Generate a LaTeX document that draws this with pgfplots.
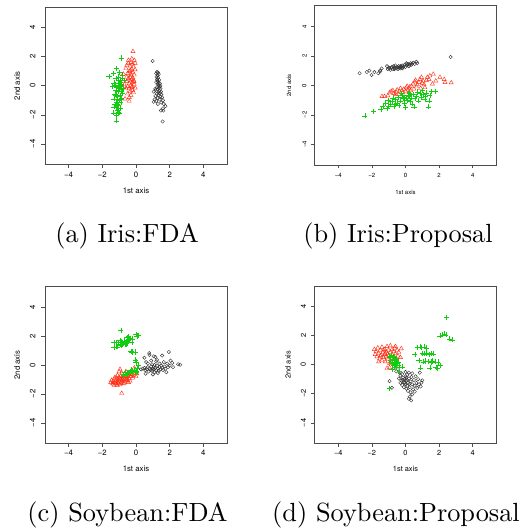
\documentclass[border=0pt]{standalone}
\usepackage{fontspec}
\usepackage{pgfplots}
\pgfplotsset{compat=1.18}
\newfontfamily\hv{TeX Gyre Heros}
\definecolor{rred}{HTML}{FF2A10}
\definecolor{rgreen}{HTML}{10CD10}
\definecolor{rblack}{HTML}{303030}
\pgfplotsset{
  rplot/.style={
    scale only axis,
    xmin=-5.4, xmax=5.4, ymin=-5.4, ymax=5.4,
    xtick={-4,-2,0,2,4}, ytick={-4,-2,0,2,4},
    xticklabels={−4,−2,0,2,4}, yticklabels={−4,−2,0,2,4},
    tick align=outside, tick pos=left,
    major tick length=3.5pt,
    axis line style={black!70, line width=0.65pt},
    tick style={black!70, line width=0.65pt},
    xticklabel style={anchor=north, inner sep=0pt},
    yticklabel style={rotate=90, anchor=south, inner sep=0pt},
    xlabel={1st axis}, ylabel={2nd axis},
    clip=false,
  },
  circ/.style={only marks, mark=o, mark size=1.7pt, rblack, mark options={line width=0.4pt}},
  tri/.style={only marks, mark=triangle, mark size=2.4pt, rred, mark options={line width=0.4pt}},
  crs/.style={only marks, mark=+, mark size=2.6pt, rgreen, mark options={line width=0.45pt}},
}
\tikzset{capnode/.style={anchor=base, font=\fontsize{10}{12}\selectfont, inner sep=0pt, scale=2.63}}
\begin{document}
\begin{tikzpicture}
\useasboundingbox (0,0) rectangle (527pt,531pt);
% ---------------- (a) Iris:FDA
\begin{axis}[rplot, at={(45pt,366.5pt)}, anchor=south west, width=182pt, height=157.5pt,
  ticklabel style={font=\hv\fontsize{7.8}{9}\selectfont},
  label style={font=\hv\fontsize{7.8}{9}\selectfont},
  xticklabel shift=3.4pt, yticklabel shift=5.8pt,
  xlabel style={at={(axis description cs:0.5,0)}, anchor=center, yshift=-26.4pt},
  ylabel style={at={([xshift=-28pt]axis description cs:0,0.5)}, anchor=center}]
\addplot[crs] coordinates {(-0.85,1.90) (-1.60,0.65) (-1.35,0.85) (-1.15,1.20) (-1.00,0.90) (-0.80,0.75) (-1.20,0.50) (-0.95,0.40) (-1.30,0.20) (-1.05,0.15) (-0.85,0.10) (-0.95,0.00) (-1.15,-0.10) (-0.75,-0.15) (-0.90,-0.25) (-1.20,-0.30) (-1.05,-0.40) (-0.80,-0.50) (-1.25,-0.55) (-0.95,-0.65) (-1.10,-0.75) (-0.85,-0.85) (-1.30,-0.90) (-1.00,-1.00) (-1.15,-1.10) (-0.90,-1.15) (-1.25,-1.30) (-1.05,-1.35) (-1.20,-1.50) (-0.95,-1.55) (-1.10,-1.65) (-1.35,-1.85) (-1.00,-1.85) (-1.15,-2.05) (-1.15,-2.40) (-0.90,0.25) (-1.40,-0.05) (-0.70,0.35) (-1.00,-0.20) (-0.85,-0.40) (-1.05,0.60) (-1.25,0.05) (-0.95,-0.90) (-1.20,-0.65) (-0.80,0.55) (-1.10,-1.25) (-0.90,0.05) (-1.00,0.20) (-1.30,-1.45) (-1.05,-1.80)};
\addplot[tri] coordinates {(-0.18,2.35) (-0.45,1.75) (-0.10,1.75) (-0.30,1.60) (-0.05,1.55) (-0.20,1.50) (-0.55,1.40) (-0.35,1.35) (-0.15,1.30) (-0.60,1.20) (-0.25,1.15) (-0.05,1.10) (-0.40,1.00) (-0.20,0.95) (-0.50,0.85) (-0.30,0.80) (-0.10,0.75) (-0.75,0.80) (-0.35,0.60) (-0.20,0.55) (-0.45,0.50) (-0.25,0.45) (-0.15,0.40) (-0.35,0.35) (-0.55,0.30) (-0.20,0.25) (-0.40,0.15) (-0.10,0.10) (-0.30,0.05) (-0.50,-0.05) (-0.25,-0.10) (-0.05,-0.15) (-0.40,-0.20) (-0.60,-0.15) (-0.20,-0.30) (-0.35,-0.40) (-0.50,-0.55) (-0.30,-0.65) (-0.40,-0.80) (-0.65,-0.90) (-0.40,-1.05) (-0.25,1.85) (-0.70,0.10) (-0.15,-0.45) (-0.45,1.55) (-0.28,0.70) (-0.12,0.30) (-0.33,1.05) (-0.22,-0.05) (-0.55,0.60)};
\addplot[circ] coordinates {(0.99,1.70) (1.25,0.95) (1.30,0.90) (1.20,0.85) (1.35,0.80) (1.28,0.70) (1.22,0.60) (1.32,0.55) (1.25,0.45) (1.38,0.40) (1.30,0.30) (1.20,0.25) (1.35,0.20) (1.42,0.15) (1.28,0.10) (1.33,0.05) (1.40,-0.05) (1.25,-0.10) (1.36,-0.15) (1.45,-0.20) (1.30,-0.25) (1.15,-0.30) (1.38,-0.35) (1.48,-0.40) (1.05,-0.40) (1.32,-0.45) (1.42,-0.50) (1.25,-0.55) (1.50,-0.60) (1.35,-0.65) (1.15,-0.70) (1.45,-0.75) (1.28,-0.85) (1.55,-0.80) (1.10,-0.95) (1.40,-0.95) (1.60,-1.00) (1.20,-1.05) (1.05,-1.10) (1.50,-1.15) (1.30,-1.25) (1.65,-1.25) (1.75,-1.40) (1.60,-1.55) (1.48,-1.70) (1.62,-1.70) (1.58,-2.45) (1.15,-0.20) (1.45,0.00) (1.27,0.35)};
\end{axis}
% ---------------- (b) Iris:Proposal
\begin{axis}[rplot, at={(314.7pt,366pt)}, anchor=south west, width=181.6pt, height=159.3pt,
  ticklabel style={font=\hv\fontsize{6}{7}\selectfont},
  label style={font=\hv\fontsize{6}{7}\selectfont},
  xticklabel shift=4.5pt, yticklabel shift=4.5pt,
  xlabel style={at={(axis description cs:0.5,0)}, anchor=center, yshift=-27pt},
  ylabel style={at={([xshift=-25.7pt]axis description cs:0,0.5)}, anchor=center}]
\addplot[circ] coordinates {(-2.73,0.82) (-2.30,0.90) (-2.15,1.00) (-2.02,0.70) (-1.85,0.90) (-1.62,0.82) (-1.52,1.00) (-1.42,1.15) (-1.50,0.95) (-1.10,1.30) (-1.05,1.10) (-0.95,1.15) (-0.90,1.05) (-0.80,1.25) (-0.75,1.10) (-0.65,1.20) (-0.60,1.35) (-0.55,1.15) (-0.50,1.25) (-0.45,1.10) (-0.40,1.30) (-0.35,1.20) (-0.30,1.15) (-0.25,1.25) (-0.20,1.35) (-0.15,1.20) (-0.10,1.30) (-0.05,1.40) (0.00,1.25) (0.05,1.50) (0.10,1.35) (0.15,1.45) (0.20,1.30) (0.30,1.50) (0.35,1.40) (0.45,1.55) (0.55,1.45) (0.65,1.60) (0.70,1.50) (-0.85,1.20) (-0.70,1.30) (-0.20,1.15) (0.25,1.40) (-1.00,1.20) (2.68,1.92) (-0.45,1.20) (0.40,1.45) (-0.65,1.10) (-0.30,1.30) (0.10,1.45)};
\addplot[tri] coordinates {(-1.40,-0.75) (-1.25,-0.75) (-1.05,-0.70) (-0.95,-0.50) (-0.85,-0.40) (-0.75,-0.35) (-0.70,-0.55) (-0.55,-0.45) (-0.50,-0.30) (-0.40,-0.60) (-0.35,-0.40) (-0.30,-0.20) (-0.20,-0.35) (-0.15,-0.50) (-0.10,-0.25) (0.00,-0.40) (0.05,-0.15) (0.10,-0.05) (0.15,-0.30) (0.20,-0.20) (0.25,-0.10) (0.30,-0.35) (0.35,-0.05) (0.45,0.10) (0.50,-0.25) (0.55,0.25) (0.65,-0.10) (0.70,0.05) (0.80,0.20) (0.90,-0.20) (0.95,0.55) (1.00,0.15) (1.05,0.30) (1.15,-0.15) (1.25,0.35) (1.30,0.55) (1.40,0.40) (1.45,0.65) (1.65,0.75) (1.80,0.30) (2.05,0.55) (2.30,0.40) (2.35,0.20) (2.72,0.18) (1.60,0.10) (0.60,0.35) (-0.60,-0.60) (0.20,-0.45) (1.10,0.05) (0.85,0.40)};
\addplot[crs] coordinates {(-2.42,-2.07) (-1.92,-1.75) (-1.47,-1.64) (-1.35,-1.40) (-1.20,-1.20) (-1.10,-1.55) (-1.00,-1.00) (-0.90,-1.30) (-0.80,-1.10) (-0.70,-1.40) (-0.60,-0.95) (-0.50,-1.20) (-0.40,-1.35) (-0.30,-1.05) (-0.20,-0.70) (-0.15,-0.90) (-0.05,-1.20) (0.00,-1.50) (0.05,-0.85) (0.10,-1.00) (0.20,-0.75) (0.30,-1.10) (0.35,-0.85) (0.45,-0.60) (0.50,-1.45) (0.55,-0.90) (0.65,-0.75) (0.75,-1.05) (0.85,-0.55) (0.95,-0.80) (1.05,-0.60) (1.15,-0.95) (1.25,-0.50) (1.35,-1.45) (1.40,-1.05) (1.45,-0.70) (1.55,-0.40) (1.76,-0.40) (-0.25,-0.55) (0.15,-0.65) (-0.75,-0.85) (0.40,-1.25) (-1.00,-1.40) (0.70,-0.45) (-0.45,-0.80) (1.00,-0.35) (-0.10,-0.80) (0.25,-0.50) (-0.60,-1.30) (1.20,-0.75)};
\end{axis}
% ---------------- (c) Soybean:FDA
\begin{axis}[rplot, at={(45pt,87.7pt)}, anchor=south west, width=182pt, height=156.6pt,
  ticklabel style={font=\hv\fontsize{7.8}{9}\selectfont},
  label style={font=\hv\fontsize{7.8}{9}\selectfont},
  xticklabel shift=3.4pt, yticklabel shift=5.8pt,
  xlabel style={at={(axis description cs:0.5,0)}, anchor=center, yshift=-25.7pt},
  ylabel style={at={([xshift=-28pt]axis description cs:0,0.5)}, anchor=center}]
\addplot[tri] coordinates {(-1.50,-1.20) (-1.45,-1.05) (-1.40,-1.30) (-1.35,-1.15) (-1.30,-0.95) (-1.30,-1.40) (-1.25,-1.20) (-1.20,-1.05) (-1.20,-1.30) (-1.15,-0.90) (-1.15,-1.40) (-1.10,-1.15) (-1.05,-1.00) (-1.05,-1.25) (-1.00,-0.85) (-1.00,-1.10) (-0.95,-1.35) (-0.95,-0.95) (-0.90,-1.20) (-0.90,-0.75) (-0.85,-1.05) (-0.85,-0.90) (-0.80,-1.25) (-0.80,-1.00) (-0.75,-0.80) (-0.75,-1.10) (-0.70,-0.95) (-0.70,-0.65) (-0.65,-1.15) (-0.65,-0.85) (-0.60,-1.00) (-0.55,-0.75) (-0.55,-0.90) (-0.50,-0.60) (-0.50,-1.05) (-0.45,-0.80) (-0.40,-0.65) (-0.40,-0.95) (-0.35,-0.55) (-0.30,-0.80) (-0.25,-0.65) (-0.20,-0.90) (-0.15,-0.70) (-0.10,-0.55) (0.00,-0.80) (-0.85,-1.95) (-0.95,-0.30) (-1.00,-0.45) (-0.10,-0.20) (0.05,-0.60) (-1.10,-0.70) (-0.60,-0.45) (-1.25,-0.85) (-0.35,-1.10) (-0.85,-0.55) (-1.35,-1.30) (-0.70,-1.30) (-0.45,-1.20) (-1.10,-1.40) (-0.60,-0.75)};
\addplot[crs] coordinates {(-0.90,2.40) (-0.55,1.90) (-0.45,1.95) (-0.35,1.85) (-0.40,1.75) (0.00,2.10) (0.15,2.05) (0.05,2.00) (-0.20,1.80) (-0.25,1.55) (-0.50,1.70) (-0.60,1.60) (-0.70,1.65) (-0.75,1.50) (-0.80,1.40) (-0.65,1.45) (-0.85,1.60) (-0.95,1.70) (-1.05,1.55) (-1.20,1.55) (-1.30,1.55) (-1.20,1.25) (-1.10,1.25) (-1.30,1.20) (-0.90,1.35) (-0.70,1.55) (-0.55,1.50) (-0.60,1.40) (-0.30,0.95) (-0.25,0.90) (-0.05,0.90) (-0.05,0.35) (0.00,0.20) (0.15,-0.05) (0.10,-0.25) (-0.20,-0.40) (-0.35,-0.45) (-0.50,-0.55) (-0.60,-0.65) (-0.75,-0.70) (-0.40,-0.60) (-0.10,-0.35) (0.05,-0.50) (-0.25,-0.55) (-0.95,1.45) (-0.45,1.60) (-0.80,1.55) (0.00,-0.45) (-0.65,-0.50) (-0.30,-0.35)};
\addplot[circ] coordinates {(0.78,0.82) (0.80,0.70) (1.05,0.60) (1.15,0.55) (1.55,0.65) (1.95,0.90) (0.50,0.50) (0.60,0.20) (0.90,0.30) (1.20,0.25) (1.40,0.10) (1.65,0.20) (1.85,0.10) (2.05,0.30) (2.15,0.15) (2.50,0.05) (2.62,0.02) (0.40,-0.25) (0.50,-0.20) (0.55,-0.35) (0.65,-0.30) (0.70,-0.15) (0.75,-0.45) (0.80,-0.25) (0.85,-0.35) (0.90,-0.10) (0.95,-0.40) (1.00,-0.25) (1.05,-0.30) (1.10,-0.50) (1.15,-0.20) (1.20,-0.35) (1.25,-0.05) (1.30,-0.25) (1.35,-0.40) (1.40,-0.15) (1.45,-0.30) (1.50,-0.05) (1.55,-0.20) (1.60,-0.35) (1.70,-0.10) (1.75,-0.25) (1.80,-0.50) (1.90,-0.15) (2.00,-0.05) (0.57,-0.60) (1.00,-0.65) (1.30,-0.55) (0.95,0.05) (1.10,0.00) (2.20,-0.15) (0.70,0.10) (1.25,0.35) (1.05,-0.15) (0.30,-0.30)};
\end{axis}
% ---------------- (d) Soybean:Proposal
\begin{axis}[rplot, at={(314.7pt,87.7pt)}, anchor=south west, width=181.6pt, height=157.3pt,
  ticklabel style={font=\hv\fontsize{7.4}{9}\selectfont},
  label style={font=\hv\fontsize{7.4}{9}\selectfont},
  xticklabel shift=3.0pt, yticklabel shift=5.0pt,
  xlabel style={at={(axis description cs:0.5,0)}, anchor=center, yshift=-26pt},
  ylabel style={at={([xshift=-26.7pt]axis description cs:0,0.5)}, anchor=center}]
\addplot[circ] coordinates {(-0.95,-1.13) (-0.81,-1.59) (0.20,-2.34) (0.34,-2.46) (0.25,-2.20) (0.40,-2.05) (0.95,-1.24) (1.00,-1.08) (0.85,-0.55) (-0.55,-0.46) (-0.45,-0.30) (-0.35,-0.55) (-0.30,-0.75) (-0.40,-0.95) (-0.25,-1.10) (-0.20,-0.65) (-0.15,-0.90) (-0.10,-1.20) (-0.05,-1.00) (0.00,-1.35) (0.00,-0.80) (0.05,-1.10) (0.10,-1.45) (0.10,-0.70) (0.15,-1.25) (0.20,-0.95) (0.25,-1.55) (0.30,-1.15) (0.35,-0.85) (0.40,-1.35) (0.45,-1.70) (0.50,-1.05) (0.55,-1.45) (0.60,-0.80) (0.65,-1.25) (0.70,-1.60) (0.75,-1.00) (0.80,-1.35) (0.90,-1.50) (-0.20,-1.40) (-0.30,-1.25) (0.05,-1.65) (0.15,-1.80) (0.30,-1.90) (-0.10,-1.55) (0.55,-1.85) (-0.60,-0.20) (0.00,-0.50) (0.20,-0.55) (0.40,-0.60) (-0.05,-1.25) (0.10,-1.05) (0.25,-1.30) (-0.15,-1.05) (0.05,-0.90)};
\addplot[tri] coordinates {(-1.85,1.05) (-1.80,0.70) (-1.75,0.90) (-1.70,0.55) (-1.65,1.15) (-1.60,0.80) (-1.55,0.40) (-1.50,1.00) (-1.45,0.65) (-1.40,1.20) (-1.40,0.30) (-1.35,0.85) (-1.30,0.50) (-1.25,1.05) (-1.25,0.70) (-1.20,0.20) (-1.15,0.90) (-1.15,0.55) (-1.10,1.25) (-1.05,0.75) (-1.05,0.35) (-1.00,1.00) (-1.00,0.60) (-0.95,0.10) (-0.90,0.85) (-0.90,1.30) (-0.85,0.45) (-0.80,0.70) (-0.80,1.05) (-0.75,0.25) (-0.70,0.90) (-0.70,0.55) (-0.65,1.15) (-0.60,0.75) (-0.55,0.40) (-0.50,1.00) (-0.45,0.60) (-0.45,0.15) (-0.40,0.85) (-0.30,0.50) (-1.10,-0.25) (-0.95,-0.20) (-0.55,-0.10) (-1.60,0.20) (-1.30,0.95) (-0.25,1.10) (-1.50,0.60) (-0.85,0.20) (-0.60,1.25) (-1.20,0.75)};
\addplot[crs] coordinates {(2.42,3.24) (2.05,1.98) (2.20,2.05) (2.30,2.12) (2.40,2.05) (2.62,1.78) (2.80,1.70) (0.70,1.20) (0.85,1.22) (0.95,1.18) (1.10,1.22) (1.25,1.15) (0.55,0.72) (1.00,0.78) (1.10,0.75) (1.25,0.80) (1.40,0.72) (1.50,0.78) (1.65,0.75) (0.80,0.28) (1.05,0.20) (1.20,0.25) (1.35,0.22) (1.50,0.18) (1.60,0.25) (1.75,0.20) (1.92,0.18) (1.45,-0.22) (1.80,-0.20) (1.90,-0.25) (2.05,-0.05) (0.90,-0.22) (-0.95,-1.65) (-0.85,0.65) (-0.90,0.30) (-0.80,0.10) (-0.70,0.15) (-0.60,0.05) (-0.50,0.10) (-0.75,0.40) (-0.65,0.55) (-0.55,-0.20) (-0.80,-0.30) (-0.45,0.20) (-0.60,0.30) (-0.70,-0.05) (-0.40,-0.05) (-0.90,0.50) (-0.20,-0.15) (-0.35,-0.45) (-0.55,0.35) (-0.95,0.60)};
\end{axis}
% ---------------- captions
\node[capnode] at (127pt,288pt) {(a) Iris:FDA};
\node[capnode] at (398pt,288pt) {(b) Iris:Proposal};
\node[capnode] at (127.5pt,9.5pt) {(c) Soybean:FDA};
\node[capnode] at (396pt,9.5pt) {(d) Soybean:Proposal};
\end{tikzpicture}
\end{document}
